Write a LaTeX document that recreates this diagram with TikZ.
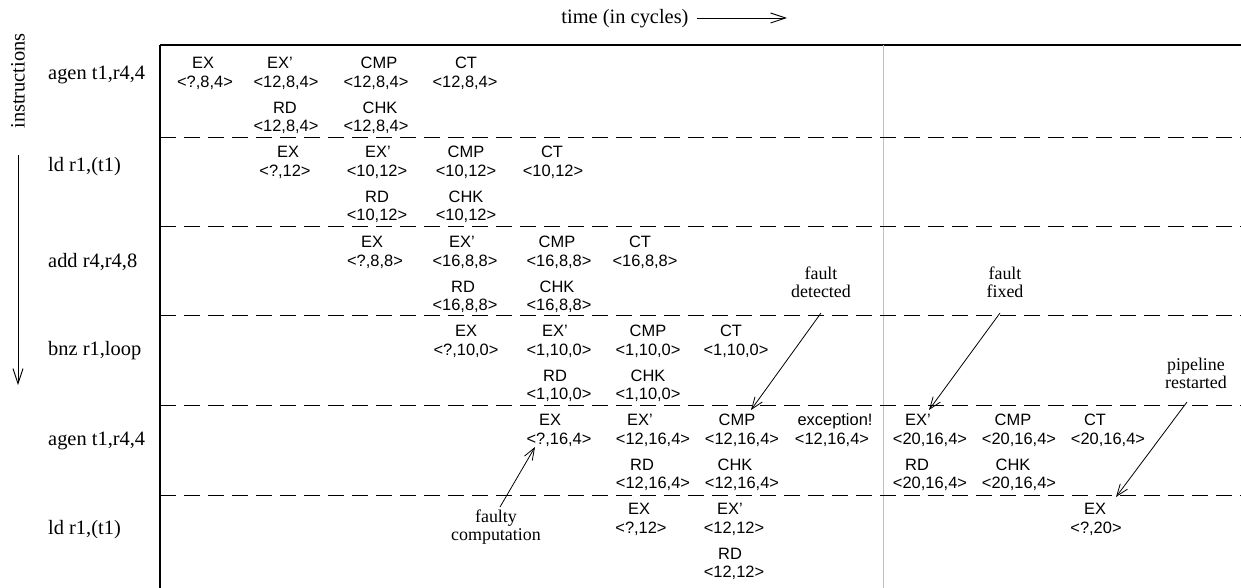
\documentclass[tikz,border=0pt]{standalone}
\usepackage{fontspec}
\setmainfont{Liberation Serif}
\setsansfont{Liberation Sans}
\usetikzlibrary{arrows.meta}
% id, label x, value x, row value-line y, label, value
\newcommand\pstage[6]{%
  \node[sf] (#1l) at ({#2},{#4-13.2}) {#5};
  \node[sf] (#1v) at ({#3},{#4+5.8}) {#6};}
\newcommand\pstageb[6]{%
  \node[sf] (#1l) at ({#2},{#4+31.8}) {#5};
  \node[sf] (#1v) at ({#3},{#4+49.8}) {#6};}
\begin{document}
\begin{tikzpicture}[x=1bp,y=-1bp,
  sf/.style={inner sep=0pt, anchor=base, font=\sffamily\fontsize{16.5}{18}\selectfont},
  rl/.style={inner sep=0pt, anchor=base west, font=\fontsize{20.5}{22}\selectfont},
  ann/.style={inner sep=0pt, align=center, font=\fontsize{18}{18}\selectfont},
  arr/.style={-{Straight Barb[length=12bp,width=9bp]}, line width=0.8bp},
  bigarr/.style={-{Straight Barb[length=15bp,width=10bp]}, line width=0.9bp},
  sep/.style={dash pattern=on 16bp off 8bp, line width=1bp},
]
\useasboundingbox (0,0) rectangle (1241,588);

% frame
\draw[line width=1.8bp] (160,45) -- (1241,45);
\draw[line width=1.2bp] (160,45) -- (160,588);
\draw[line width=1.3bp, black!25] (883.5,45) -- (883.5,588);
\foreach \yy in {137.5,226.75,316,405.5,495}
  \draw[sep] (160,\yy) -- (1241,\yy);

% axis labels
\node[inner sep=0pt, anchor=base, font=\fontsize{20.5}{22}\selectfont] (time) at (625,24) {time (in cycles)};
\coordinate (ta) at (697,18);
\coordinate (tb) at (787,18);
\draw[bigarr] (ta) -- (tb);
\node[inner sep=0pt, rotate=90, font=\fontsize{20.5}{22}\selectfont] (instr) at (18,81) {instructions};
\coordinate (ia) at (18,155);
\coordinate (ib) at (18,385);
\draw[bigarr] (ia) -- (ib);

% row labels
\node[rl] (i1) at (48,80) {agen t1,r4,4};
\node[rl] (i2) at (48,172) {ld r1,(t1)};
\node[rl] (i3) at (48,268) {add r4,r4,8};
\node[rl] (i4) at (48,356) {bnz r1,loop};
\node[rl] (i5) at (48,445) {agen t1,r4,4};
\node[rl] (i6) at (48,534) {ld r1,(t1)};

% row 1
\pstage{aA}{203}{205}{82}{EX}{<?,8,4>}
\pstage{aB}{280}{286}{82}{EX'}{<12,8,4>}
\pstage{aC}{379}{376}{82}{CMP}{<12,8,4>}
\pstage{aD}{466}{465}{82}{CT}{<12,8,4>}
\pstageb{aE}{285}{286}{82}{RD}{<12,8,4>}
\pstageb{aF}{380}{376}{82}{CHK}{<12,8,4>}
% row 2
\pstage{bA}{288}{285}{171}{EX}{<?,12>}
\pstage{bB}{378}{377}{171}{EX'}{<10,12>}
\pstage{bC}{466}{466}{171}{CMP}{<10,12>}
\pstage{bD}{552}{553}{171}{CT}{<10,12>}
\pstageb{bE}{377}{377}{171}{RD}{<10,12>}
\pstageb{bF}{466}{466}{171}{CHK}{<10,12>}
% row 3
\pstage{cA}{372}{375}{260.5}{EX}{<?,8,8>}
\pstage{cB}{462}{465}{260.5}{EX'}{<16,8,8>}
\pstage{cC}{557}{559}{260.5}{CMP}{<16,8,8>}
\pstage{cD}{640}{645}{260.5}{CT}{<16,8,8>}
\pstageb{cE}{463}{465}{260.5}{RD}{<16,8,8>}
\pstageb{cF}{557}{559}{260.5}{CHK}{<16,8,8>}
% row 4
\pstage{dA}{466}{466}{350}{EX}{<?,10,0>}
\pstage{dB}{555}{559}{350}{EX'}{<1,10,0>}
\pstage{dC}{648}{648}{350}{CMP}{<1,10,0>}
\pstage{dD}{731}{736}{350}{CT}{<1,10,0>}
\pstageb{dE}{555}{559}{350}{RD}{<1,10,0>}
\pstageb{dF}{648}{648}{350}{CHK}{<1,10,0>}
% row 5
\pstage{eA}{550}{559}{439}{EX}{<?,16,4>}
\pstage{eB}{640}{653}{439}{EX'}{<12,16,4>}
\pstage{eC}{737}{742}{439}{CMP}{<12,16,4>}
\pstage{eD}{835}{832}{439}{exception!}{<12,16,4>}
\pstage{eG}{918}{930}{439}{EX'}{<20,16,4>}
\pstage{eH}{1013}{1019}{439}{CMP}{<20,16,4>}
\pstage{eI}{1095}{1108}{439}{CT}{<20,16,4>}
\pstageb{eE}{642}{653}{439}{RD}{<12,16,4>}
\pstageb{eF}{735}{742}{439}{CHK}{<12,16,4>}
\pstageb{eJ}{917}{930}{439}{RD}{<20,16,4>}
\pstageb{eK}{1013}{1019}{439}{CHK}{<20,16,4>}
% row 6
\pstage{fA}{639}{641}{528}{EX}{<?,12>}
\pstage{fB}{730}{734}{528}{EX'}{<12,12>}
\pstage{fC}{1095}{1096}{528}{EX}{<?,20>}
\pstageb{fE}{730}{734}{528}{RD}{<12,12>}

% annotations
\node[ann] (fdet) at (821,282) {fault\\detected};
\coordinate (fdetA) at (821,313);
\coordinate (fdetB) at (751,410);
\draw[arr] (fdetA) -- (fdetB);

\node[ann] (ffix) at (1005,282) {fault\\fixed};
\coordinate (ffixA) at (1000,313);
\coordinate (ffixB) at (929,410);
\draw[arr] (ffixA) -- (ffixB);

\node[ann] (prest) at (1196,373) {pipeline\\restarted};
\coordinate (prestA) at (1187,402);
\coordinate (prestB) at (1116,497);
\draw[arr] (prestA) -- (prestB);

\node[ann] (fcomp) at (496,527) {faulty\\computation};
\coordinate (fcompA) at (500,507);
\coordinate (fcompB) at (535,447);
\draw[arr] (fcompA) -- (fcompB);
\end{tikzpicture}
\end{document}
